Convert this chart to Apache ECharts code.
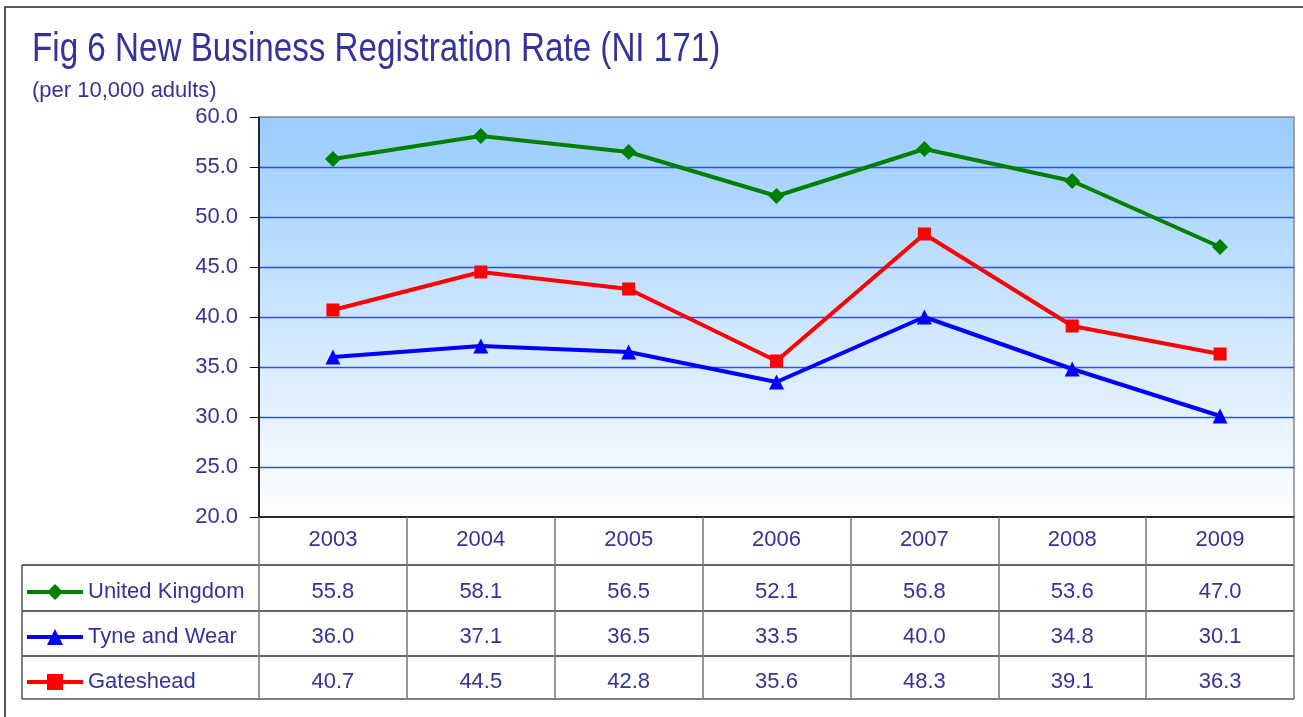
<!DOCTYPE html>
<html>
<head>
<meta charset="utf-8">
<script src="https://cdn.jsdelivr.net/npm/echarts@6/dist/echarts.min.js"></script>
<style>
  html, body { margin: 0; padding: 0; background: #fff; }
  #main { width: 1303px; height: 717px; }
</style>
</head>
<body>
<div id="main"></div>
<script>
  // data
  var years = ['2003', '2004', '2005', '2006', '2007', '2008', '2009'];
  var ukRate = [55.8, 58.1, 56.5, 52.1, 56.8, 53.6, 47.0];
  var tyneWear = [36.0, 37.1, 36.5, 33.5, 40.0, 34.8, 30.1];
  var gateshead = [40.7, 44.5, 42.8, 35.6, 48.3, 39.1, 36.3];

  var seriesNames = ['United Kingdom', 'Tyne and Wear', 'Gateshead'];
  var seriesData = [ukRate, tyneWear, gateshead];
  var seriesColors = ['#008000', '#0000ff', '#ff0000'];
  var seriesSymbols = ['diamond', 'triangle', 'rect'];
  var symbolSizes = [16, 15, 13];

  var txt = '#333399';
  var font = 'Liberation Sans, Arial, sans-serif';

  var chart = echarts.init(document.getElementById('main'));

  var series = seriesNames.map(function (name, i) {
    return {
      name: name,
      type: 'line',
      data: seriesData[i],
      symbol: seriesSymbols[i],
      symbolSize: symbolSizes[i],
      lineStyle: { color: seriesColors[i], width: 4 },
      itemStyle: { color: seriesColors[i] },
      z: 10 - i
    };
  });

  var option = {
    animation: false,
    backgroundColor: '#fff',
    textStyle: { fontFamily: font },
    grid: {
      left: 259, top: 117, width: 1035, height: 400,
      show: true,
      borderColor: '#888',
      borderWidth: 1.5,
      backgroundColor: new echarts.graphic.LinearGradient(0, 0, 0, 1, [
        { offset: 0, color: '#99ccff' },
        { offset: 1, color: '#ffffff' }
      ])
    },
    legend: {
      orient: 'vertical',
      left: 20,
      top: 575,
      itemWidth: 56,
      itemHeight: 20,
      itemGap: 21,
      data: seriesNames,
      lineStyle: { width: 4 },
      textStyle: { color: txt, fontSize: 22, lineHeight: 24, fontFamily: font }
    },
    xAxis: {
      type: 'category',
      data: years,
      boundaryGap: true,
      axisLine: { lineStyle: { color: '#000', width: 1.5 } },
      axisTick: { show: true, length: 182, lineStyle: { color: '#777', width: 1.5 } },
      axisLabel: { color: txt, fontSize: 22, margin: 12, fontFamily: font }
    },
    yAxis: {
      type: 'value',
      min: 20, max: 60, interval: 5,
      axisLine: { show: true, lineStyle: { color: '#000', width: 1.5 } },
      axisTick: { show: true, length: 9, lineStyle: { color: '#000' } },
      axisLabel: {
        color: txt, fontSize: 22, margin: 21, fontFamily: font,
        formatter: function (v) { return v.toFixed(1); }
      },
      splitLine: { show: true, showMinLine: false, showMaxLine: false, lineStyle: { color: '#2d4bff', width: 1.3 } }
    },
    series: series
  };
  chart.setOption(option);

  // data table under the axis, plus the outer frame and titles
  var rowY = [592, 637, 682];
  var graphics = [
    { type: 'rect', shape: { x: 5, y: 7, width: 1400, height: 800 }, style: { fill: null, stroke: '#222', lineWidth: 1.5 }, silent: true },
    {
      type: 'text', x: 32, y: 50, scaleX: 0.83,
      style: { text: 'Fig 6 New Business Registration Rate (NI 171)', fill: txt, font: '40px ' + font, textVerticalAlign: 'middle' }
    },
    {
      type: 'text', x: 32, y: 91,
      style: { text: '(per 10,000 adults)', fill: txt, font: '22px ' + font, textVerticalAlign: 'middle' }
    },
    { type: 'line', shape: { x1: 22, y1: 565, x2: 1294, y2: 565 }, style: { stroke: '#333', lineWidth: 1.5 } },
    { type: 'line', shape: { x1: 22, y1: 611, x2: 1294, y2: 611 }, style: { stroke: '#333', lineWidth: 1.5 } },
    { type: 'line', shape: { x1: 22, y1: 656, x2: 1294, y2: 656 }, style: { stroke: '#333', lineWidth: 1.5 } },
    { type: 'line', shape: { x1: 22, y1: 699, x2: 1294, y2: 699 }, style: { stroke: '#555', lineWidth: 1.5 } },
    { type: 'line', shape: { x1: 22, y1: 565, x2: 22, y2: 699 }, style: { stroke: '#555', lineWidth: 1.5 } }
  ];
  seriesData.forEach(function (arr, r) {
    arr.forEach(function (v, c) {
      var px = chart.convertToPixel({ xAxisIndex: 0 }, years[c]);
      graphics.push({
        type: 'text', x: px, y: rowY[r],
        style: { text: v.toFixed(1), fill: txt, font: '22px ' + font, textAlign: 'center', textVerticalAlign: 'middle' }
      });
    });
  });
  chart.setOption({ graphic: graphics });
</script>
</body>
</html>
